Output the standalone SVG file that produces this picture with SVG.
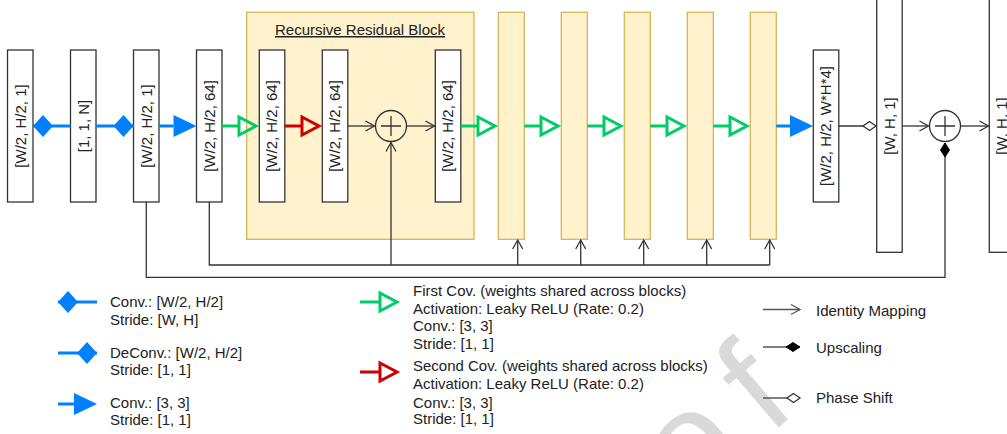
<svg xmlns="http://www.w3.org/2000/svg" width="1007" height="434" viewBox="0 0 1007 434">
<style>
text{font-family:"Liberation Sans",Arial,sans-serif;font-size:15px;fill:#222}
.box{fill:#fff;stroke:#333;stroke-width:1.3}
.yel{fill:#fff2cc;stroke:#d6b656;stroke-width:1.3}
.thin{fill:none;stroke:#333;stroke-width:1.3}
.lg{fill:none;stroke:#555;stroke-width:1.3}
.blue{fill:none;stroke:#007fff;stroke-width:3}
.green{fill:none;stroke:#00cc66;stroke-width:3}
.red{fill:none;stroke:#cc0000;stroke-width:3}
.lbl{text-anchor:middle}
.wm{font-size:140px;fill:#d9d9d9;text-anchor:end;letter-spacing:28px}
</style>
<defs>
<marker id="open" markerUnits="userSpaceOnUse" orient="auto" overflow="visible" refX="0" refY="0" markerWidth="12" markerHeight="12"><path d="M-9,-5 L0,0 L-9,5" fill="none" stroke="#333" stroke-width="1.3"/></marker>
<marker id="openg" markerUnits="userSpaceOnUse" orient="auto" overflow="visible" refX="0" refY="0" markerWidth="12" markerHeight="12"><path d="M-9,-5 L0,0 L-9,5" fill="none" stroke="#555" stroke-width="1.3"/></marker>
<marker id="gtri" markerUnits="userSpaceOnUse" orient="auto" overflow="visible" refX="0" refY="0" markerWidth="24" markerHeight="24"><path d="M0,-9 L17,0 L0,9 Z" fill="none" stroke="#00cc66" stroke-width="3"/></marker>
<marker id="rtri" markerUnits="userSpaceOnUse" orient="auto" overflow="visible" refX="0" refY="0" markerWidth="24" markerHeight="24"><path d="M0,-9 L17,0 L0,9 Z" fill="none" stroke="#cc0000" stroke-width="3"/></marker>
<marker id="btri" markerUnits="userSpaceOnUse" orient="auto" overflow="visible" refX="0" refY="0" markerWidth="24" markerHeight="24"><path d="M0,-11 L23,0 L0,11 Z" fill="#007fff"/></marker>
<marker id="bdiaS" markerUnits="userSpaceOnUse" orient="auto" overflow="visible" refX="0" refY="0" markerWidth="24" markerHeight="24"><path d="M0,0 L10,-11 L20,0 L10,11 Z" fill="#007fff"/></marker>
<marker id="bdiaE" markerUnits="userSpaceOnUse" orient="auto" overflow="visible" refX="0" refY="0" markerWidth="24" markerHeight="24"><path d="M0,0 L-10,-11 L-20,0 L-10,11 Z" fill="#007fff"/></marker>
<marker id="hdia" markerUnits="userSpaceOnUse" orient="auto" overflow="visible" refX="0" refY="0" markerWidth="16" markerHeight="16"><path d="M0,0 L-6.5,-4.5 L-13,0 L-6.5,4.5 Z" fill="#fff" stroke="#333" stroke-width="1.3"/></marker>
<marker id="fdia" markerUnits="userSpaceOnUse" orient="auto" overflow="visible" refX="0" refY="0" markerWidth="16" markerHeight="16"><path d="M0,0 L-7,-4.5 L-14,0 L-7,4.5 Z" fill="#000" stroke="#000" stroke-width="1"/></marker>
</defs>
<rect width="1007" height="434" fill="#fff"/>
<text class="wm" transform="translate(820,392) rotate(-40.5)">Proof</text>

<g id="rrb"><rect class="yel" x="246.7" y="12.3" width="227.3" height="227"/>
<text x="360" y="35" class="lbl" text-decoration="underline">Recursive Residual Block</text></g>

<g id="b1"><rect class="box" x="7.5" y="50" width="25.5" height="152"/><text class="lbl" transform="translate(25.5,126) rotate(-90)">[W/2, H/2, 1]</text></g>
<g id="b2"><rect class="box" x="70.5" y="50" width="25.5" height="152"/><text class="lbl" transform="translate(88.5,126) rotate(-90)">[1, 1, N]</text></g>
<g id="b3"><rect class="box" x="133.5" y="50" width="25.5" height="152"/><text class="lbl" transform="translate(151.5,126) rotate(-90)">[W/2, H/2, 1]</text></g>
<g id="b4"><rect class="box" x="196.5" y="50" width="25.5" height="152"/><text class="lbl" transform="translate(214.5,126) rotate(-90)">[W/2, H/2, 64]</text></g>
<g id="b5"><rect class="box" x="259.3" y="50" width="25.5" height="152"/><text class="lbl" transform="translate(277.3,126) rotate(-90)">[W/2, H/2, 64]</text></g>
<g id="b6"><rect class="box" x="322.3" y="50" width="25.5" height="152"/><text class="lbl" transform="translate(340.3,126) rotate(-90)">[W/2, H/2, 64]</text></g>
<g id="sum1"><circle class="thin" cx="391" cy="126" r="15.5"/><path class="thin" d="M381,126 H401 M391,116 V136"/></g>
<g id="b7"><rect class="box" x="435.3" y="50" width="25.5" height="152"/><text class="lbl" transform="translate(453.3,126) rotate(-90)">[W/2, H/2, 64]</text></g>
<g id="t1"><rect class="yel" x="498.3" y="12.3" width="26" height="227"/></g>
<g id="t2"><rect class="yel" x="561.3" y="12.3" width="26" height="227"/></g>
<g id="t3"><rect class="yel" x="624.3" y="12.3" width="26" height="227"/></g>
<g id="t4"><rect class="yel" x="687.3" y="12.3" width="26" height="227"/></g>
<g id="t5"><rect class="yel" x="750.3" y="12.3" width="26" height="227"/></g>
<g id="b8"><rect class="box" x="813.3" y="50" width="25.5" height="152"/><text class="lbl" transform="translate(831.3,126) rotate(-90)">[W/2, H/2, W*H*4]</text></g>
<g id="b9"><rect class="box" x="876.7" y="-2" width="25.5" height="254.3"/><text class="lbl" transform="translate(894.7,126) rotate(-90)">[W, H, 1]</text></g>
<g id="sum2"><circle class="thin" cx="945" cy="126" r="15.5"/><path class="thin" d="M935,126 H955 M945,116 V136"/></g>
<g id="b10"><rect class="box" x="989.3" y="-2" width="25.5" height="254.3"/><text class="lbl" transform="translate(1007.3,126) rotate(-90)">[W, H, 1]</text></g>

<g id="connectors">
<path class="blue" d="M33,126 H70.5" marker-start="url(#bdiaS)"/>
<path class="blue" d="M96,126 H133.5" marker-end="url(#bdiaE)"/>
<path class="blue" d="M159,126 H173.5" marker-end="url(#btri)"/>
<path class="green" d="M222,126 H239" marker-end="url(#gtri)"/>
<path class="red" d="M284.8,126 H302" marker-end="url(#rtri)"/>
<path class="thin" d="M347.8,126 H374.5" marker-end="url(#open)"/>
<path class="thin" d="M406.5,126 H434.5" marker-end="url(#open)"/>
<path class="green" d="M460.8,126 H478" marker-end="url(#gtri)"/>
<path class="green" d="M524.3,126 H541" marker-end="url(#gtri)"/>
<path class="green" d="M587.3,126 H604" marker-end="url(#gtri)"/>
<path class="green" d="M650.3,126 H667" marker-end="url(#gtri)"/>
<path class="green" d="M713.3,126 H730" marker-end="url(#gtri)"/>
<path class="blue" d="M776.3,126 H790" marker-end="url(#btri)"/>
<path class="thin" d="M838.8,126 H876" marker-end="url(#hdia)"/>
<path class="thin" d="M902.2,126 H928.5" marker-end="url(#open)"/>
<path class="thin" d="M960.5,126 H988.5" marker-end="url(#open)"/>
<path class="thin" d="M209.3,202 V265 H769.7"/>
<path class="thin" d="M391,265 V142.5" marker-end="url(#open)"/>
<path class="thin" d="M517.7,265 V240" marker-end="url(#open)"/>
<path class="thin" d="M580.7,265 V240" marker-end="url(#open)"/>
<path class="thin" d="M643.7,265 V240" marker-end="url(#open)"/>
<path class="thin" d="M706.7,265 V240" marker-end="url(#open)"/>
<path class="thin" d="M769.7,265 V240" marker-end="url(#open)"/>
<path class="thin" d="M146.3,202 V277.3 H945 V143" marker-end="url(#fdia)"/>
</g>

<g id="legend">
<path class="blue" d="M58,302 H97" marker-start="url(#bdiaS)"/>
<text x="110" y="307.4">Conv.: [W/2, H/2]</text>
<text x="110" y="324.7">Stride: [W, H]</text>
<path class="blue" d="M58,353 H97" marker-end="url(#bdiaE)"/>
<text x="110" y="358">DeConv.: [W/2, H/2]</text>
<text x="110" y="375">Stride: [1, 1]</text>
<path class="blue" d="M58,404 H74" marker-end="url(#btri)"/>
<text x="110" y="408">Conv.: [3, 3]</text>
<text x="110" y="425">Stride: [1, 1]</text>

<path class="green" d="M360,302 H380" marker-end="url(#gtri)"/>
<text x="413" y="296">First Cov. (weights shared across blocks)</text>
<text x="413" y="314">Activation: Leaky ReLU (Rate: 0.2)</text>
<text x="413" y="331">Conv.: [3, 3]</text>
<text x="413" y="349">Stride: [1, 1]</text>
<path class="red" d="M360,372 H380" marker-end="url(#rtri)"/>
<text x="413" y="371.4">Second Cov. (weights shared across blocks)</text>
<text x="413" y="389">Activation: Leaky ReLU (Rate: 0.2)</text>
<text x="413" y="408">Conv.: [3, 3]</text>
<text x="413" y="424">Stride: [1, 1]</text>

<path class="lg" d="M763,309.5 H800" marker-end="url(#openg)"/>
<text x="816" y="315.7">Identity Mapping</text>
<path class="lg" d="M763,347 H800" marker-end="url(#fdia)"/>
<text x="816" y="353.4">Upscaling</text>
<path class="lg" d="M763,398 H800" marker-end="url(#hdia)"/>
<text x="816" y="403.4">Phase Shift</text>
</g>
</svg>
